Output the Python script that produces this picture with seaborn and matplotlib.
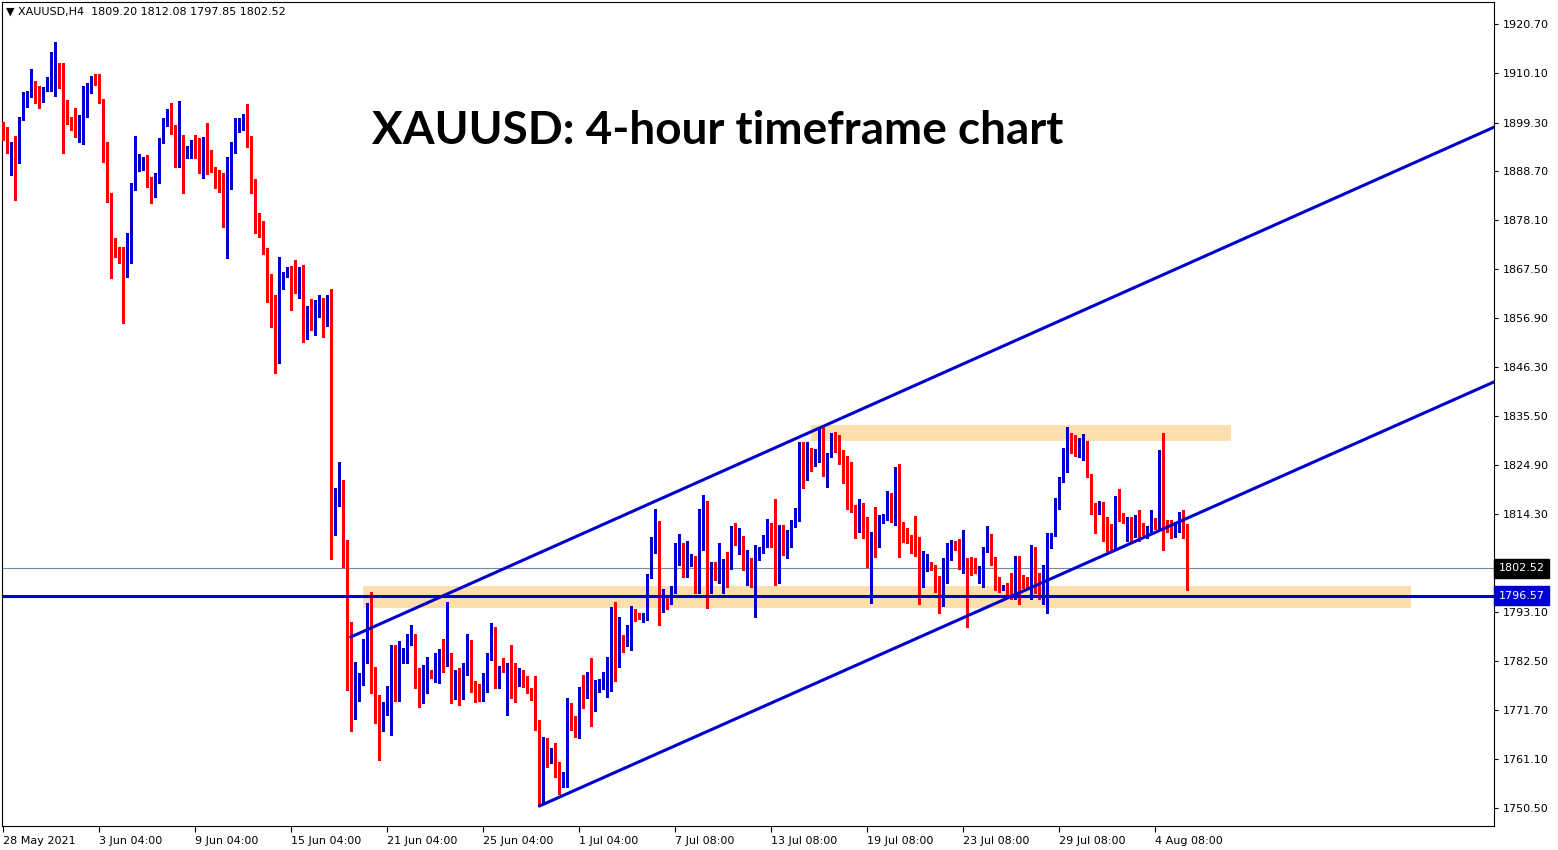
import numpy as np
import pandas as pd
import seaborn as sns
import matplotlib.pyplot as plt
from matplotlib import transforms

# ---------------------------------------------------------------------------
# XAUUSD H4 candles (28 May 2021 -> 5 Aug 2021)
# ---------------------------------------------------------------------------
opens = [
    1898.8, 1897.0, 1893.1, 1893.8, 1893.1, 1900.1, 1903.8, 1904.8, 1907.0, 1906.6,
    1905.5, 1907.2, 1908.1, 1910.7, 1911.8, 1910.7, 1903.5, 1900.1, 1899.2, 1896.4,
    1896.4, 1904.6, 1906.6, 1908.8, 1908.5, 1904.0, 1894.6, 1882.5, 1871.2, 1871.4,
    1869.7, 1868.6, 1869.7, 1884.9, 1889.4, 1890.3, 1891.2, 1886.2, 1884.7, 1887.3,
    1895.1, 1899.2, 1901.8, 1897.2, 1892.7, 1893.3, 1892.5, 1891.8, 1895.3, 1894.2,
    1889.4, 1894.0, 1891.4, 1889.2, 1886.2, 1885.7, 1882.3, 1890.7, 1894.0, 1898.1,
    1899.6, 1900.5, 1895.3, 1884.7, 1879.2, 1876.4, 1871.2, 1865.8, 1858.2, 1848.4,
    1864.5, 1866.4, 1866.6, 1864.7, 1864.0, 1865.8, 1852.5, 1859.3, 1854.5, 1860.1,
    1860.3, 1857.9, 1859.5, 1812.8, 1817.8, 1821.7, 1804.8, 1785.6, 1770.7, 1775.4,
    1779.1, 1784.6, 1791.3, 1777.4, 1772.2, 1768.9, 1773.1, 1773.1, 1785.2, 1775.0,
    1783.3, 1784.1, 1786.1, 1788.3, 1778.7, 1774.6, 1778.5, 1780.0, 1778.9, 1782.0,
    1783.0, 1782.4, 1783.5, 1778.5, 1778.9, 1775.0, 1779.8, 1783.7, 1776.9, 1776.5,
    1773.9, 1776.5, 1782.8, 1785.6, 1777.2, 1781.5, 1780.7, 1780.9, 1779.4, 1777.4,
    1779.8, 1778.7, 1776.1, 1774.8, 1769.6, 1755.0, 1763.1, 1762.2, 1762.6, 1759.4,
    1756.3, 1757.0, 1772.4, 1770.2, 1766.3, 1774.8, 1774.6, 1777.8, 1771.8, 1776.5,
    1777.2, 1777.8, 1782.0, 1789.6, 1782.0, 1787.6, 1785.9, 1787.6, 1792.8, 1792.1,
    1791.5, 1791.9, 1800.6, 1806.1, 1809.5, 1794.1, 1796.3, 1795.2, 1797.8, 1804.5,
    1804.8, 1801.7, 1803.7, 1804.5, 1797.8, 1813.7, 1813.7, 1797.6, 1803.2, 1800.6,
    1801.5, 1802.8, 1802.6, 1810.6, 1808.0, 1809.1, 1803.0, 1803.5, 1802.8, 1805.8,
    1806.3, 1807.4, 1810.0, 1809.1, 1800.4, 1811.7, 1807.2, 1807.4, 1811.9, 1814.3,
    1828.8, 1821.9, 1827.6, 1825.2, 1826.0, 1832.5, 1823.4, 1826.9, 1829.9, 1829.5,
    1826.7, 1823.0, 1823.0, 1815.4, 1811.3, 1815.0, 1812.6, 1804.3, 1809.3, 1809.1,
    1812.6, 1813.4, 1818.0, 1813.0, 1823.0, 1812.1, 1810.4, 1809.1, 1808.2, 1807.6,
    1798.9, 1803.0, 1803.9, 1802.8, 1799.3, 1797.2, 1802.8, 1805.2, 1807.2, 1807.2,
    1803.2, 1804.5, 1803.2, 1802.6, 1802.2, 1799.3, 1806.5, 1808.9, 1803.7, 1799.5,
    1798.0, 1798.7, 1798.2, 1796.3, 1803.0, 1800.2, 1800.4, 1799.5, 1805.2, 1801.3,
    1799.5, 1802.8, 1807.2, 1809.8, 1815.6, 1821.5, 1825.8, 1831.5, 1829.3, 1827.6,
    1827.6, 1829.9, 1823.0, 1814.5, 1814.5, 1816.7, 1810.8, 1807.6, 1806.9, 1818.0,
    1814.1, 1811.5, 1811.9, 1810.8, 1812.8, 1811.3, 1810.2, 1810.4, 1812.6, 1811.5,
    1827.6, 1812.1, 1811.7, 1809.8, 1811.0, 1811.0, 1809.20,
]
highs = [
    1899.4, 1898.3, 1895.1, 1896.4, 1900.5, 1905.9, 1906.1, 1910.9, 1908.3, 1907.2,
    1907.0, 1909.2, 1914.6, 1916.8, 1912.2, 1912.2, 1904.2, 1900.5, 1902.5, 1900.9,
    1907.2, 1907.9, 1909.4, 1909.8, 1909.8, 1904.4, 1895.1, 1884.0, 1874.2, 1872.3,
    1872.3, 1875.3, 1886.2, 1896.4, 1892.5, 1891.8, 1892.2, 1887.5, 1888.3, 1895.9,
    1900.3, 1902.2, 1903.5, 1898.8, 1904.0, 1896.6, 1894.2, 1895.5, 1896.6, 1895.9,
    1896.2, 1899.2, 1893.3, 1889.6, 1889.0, 1888.3, 1891.8, 1895.1, 1900.3, 1900.3,
    1901.2, 1903.3, 1896.4, 1887.0, 1879.7, 1877.9, 1872.1, 1866.4, 1861.9, 1870.1,
    1866.8, 1867.9, 1868.1, 1869.5, 1867.9, 1868.4, 1859.5, 1861.0, 1860.8, 1861.9,
    1861.2, 1861.9, 1863.2, 1820.0, 1825.6, 1821.7, 1808.7, 1790.9, 1782.2, 1779.8,
    1787.2, 1795.0, 1797.4, 1781.1, 1775.0, 1773.5, 1777.0, 1785.9, 1785.9, 1786.7,
    1785.2, 1788.3, 1790.2, 1788.3, 1780.9, 1781.5, 1783.3, 1780.4, 1784.1, 1785.0,
    1787.2, 1795.2, 1784.1, 1780.4, 1780.9, 1782.0, 1788.3, 1787.0, 1778.0, 1777.4,
    1779.8, 1784.1, 1790.6, 1789.8, 1781.3, 1783.0, 1782.0, 1785.9, 1782.0, 1780.9,
    1780.4, 1779.1, 1776.5, 1779.1, 1769.6, 1765.9, 1765.7, 1763.5, 1764.6, 1760.5,
    1758.3, 1774.4, 1773.3, 1770.4, 1776.7, 1779.4, 1780.0, 1783.0, 1778.3, 1778.5,
    1780.0, 1783.3, 1794.1, 1795.2, 1791.9, 1788.0, 1790.2, 1794.3, 1793.7, 1792.8,
    1792.8, 1801.3, 1809.3, 1815.4, 1812.8, 1798.0, 1796.5, 1798.7, 1808.0, 1810.0,
    1808.0, 1808.4, 1805.6, 1805.2, 1815.4, 1818.4, 1817.1, 1803.9, 1803.9, 1808.0,
    1804.5, 1806.1, 1811.7, 1812.4, 1811.3, 1809.5, 1806.5, 1804.8, 1807.6, 1807.2,
    1809.8, 1813.2, 1812.4, 1817.6, 1811.9, 1811.9, 1810.8, 1813.0, 1815.6, 1829.9,
    1829.9, 1829.9, 1828.6, 1828.4, 1833.0, 1833.4, 1827.6, 1831.9, 1832.1, 1831.5,
    1828.2, 1826.9, 1825.6, 1816.3, 1817.6, 1816.7, 1813.7, 1810.4, 1815.8, 1814.1,
    1814.3, 1819.3, 1818.9, 1824.5, 1825.2, 1812.6, 1811.3, 1809.8, 1813.9, 1809.3,
    1806.3, 1805.6, 1803.9, 1803.2, 1800.8, 1804.8, 1808.0, 1808.7, 1808.4, 1808.9,
    1810.8, 1804.8, 1805.0, 1804.8, 1803.0, 1807.2, 1811.7, 1810.0, 1805.0, 1800.6,
    1798.9, 1799.3, 1801.5, 1805.2, 1805.2, 1801.1, 1800.6, 1807.6, 1807.2, 1801.5,
    1803.2, 1810.2, 1810.2, 1817.8, 1822.3, 1828.6, 1833.2, 1831.9, 1831.5, 1830.8,
    1831.7, 1830.2, 1823.0, 1816.7, 1817.1, 1816.9, 1813.7, 1812.1, 1818.2, 1819.7,
    1814.5, 1813.7, 1813.7, 1814.1, 1815.2, 1812.4, 1811.7, 1815.2, 1813.4, 1828.2,
    1831.9, 1813.0, 1813.0, 1812.6, 1814.7, 1815.2, 1812.08,
]
lows = [
    1895.5, 1892.7, 1887.9, 1882.5, 1890.5, 1899.8, 1902.7, 1904.8, 1903.5, 1902.5,
    1903.8, 1906.1, 1906.1, 1905.1, 1906.8, 1892.7, 1899.0, 1897.7, 1896.2, 1895.1,
    1894.6, 1900.5, 1905.7, 1907.4, 1903.5, 1890.7, 1882.1, 1865.6, 1870.1, 1868.8,
    1855.8, 1865.8, 1868.8, 1884.7, 1888.8, 1889.0, 1885.3, 1881.8, 1883.1, 1886.2,
    1894.9, 1898.5, 1896.8, 1889.6, 1889.6, 1884.0, 1891.6, 1891.6, 1891.6, 1888.3,
    1887.3, 1888.1, 1888.6, 1885.1, 1884.2, 1876.6, 1869.9, 1884.9, 1892.7, 1897.2,
    1897.7, 1894.0, 1884.0, 1875.3, 1874.5, 1870.8, 1860.3, 1854.9, 1844.9, 1847.1,
    1863.2, 1865.8, 1858.6, 1862.3, 1861.2, 1851.7, 1852.3, 1854.3, 1853.2, 1857.1,
    1852.7, 1855.1, 1804.5, 1809.8, 1816.1, 1802.8, 1776.1, 1767.2, 1769.8, 1773.7,
    1777.2, 1782.0, 1775.5, 1768.9, 1760.9, 1767.2, 1770.7, 1766.3, 1773.7, 1773.7,
    1782.0, 1782.0, 1785.9, 1776.5, 1772.4, 1773.3, 1775.4, 1778.7, 1777.8, 1777.6,
    1780.0, 1781.3, 1773.3, 1774.2, 1772.8, 1774.2, 1779.4, 1775.7, 1773.5, 1773.7,
    1773.7, 1775.7, 1782.6, 1776.5, 1776.5, 1780.0, 1770.7, 1774.4, 1773.5, 1777.0,
    1776.7, 1775.5, 1773.9, 1767.4, 1751.1, 1751.4, 1759.4, 1760.3, 1757.2, 1753.5,
    1755.0, 1755.0, 1767.4, 1765.9, 1765.7, 1772.2, 1774.4, 1768.3, 1771.5, 1775.7,
    1776.3, 1774.6, 1775.9, 1778.0, 1781.1, 1784.4, 1785.6, 1784.8, 1791.1, 1791.5,
    1790.9, 1791.3, 1800.4, 1805.8, 1790.2, 1793.0, 1793.7, 1794.8, 1797.2, 1803.2,
    1800.6, 1800.6, 1803.0, 1797.2, 1797.2, 1806.5, 1793.9, 1797.2, 1800.0, 1799.3,
    1797.2, 1798.5, 1802.4, 1807.6, 1805.6, 1802.2, 1798.9, 1798.5, 1791.9, 1804.3,
    1805.8, 1807.2, 1807.2, 1798.9, 1799.3, 1805.4, 1804.8, 1807.2, 1811.5, 1812.8,
    1819.9, 1821.7, 1823.6, 1824.7, 1825.6, 1822.6, 1820.2, 1826.7, 1827.8, 1825.2,
    1821.0, 1815.4, 1814.7, 1809.1, 1810.4, 1809.1, 1802.8, 1795.0, 1805.0, 1807.2,
    1812.4, 1813.0, 1812.6, 1811.9, 1805.0, 1808.2, 1808.0, 1805.8, 1805.2, 1794.8,
    1798.5, 1801.9, 1802.2, 1797.4, 1792.8, 1794.3, 1799.3, 1804.3, 1806.5, 1802.4,
    1801.5, 1789.8, 1801.1, 1801.5, 1799.3, 1798.5, 1806.1, 1803.2, 1797.8, 1797.4,
    1797.8, 1796.1, 1795.9, 1795.9, 1794.8, 1798.2, 1798.5, 1795.9, 1797.2, 1795.9,
    1794.8, 1792.8, 1806.9, 1809.5, 1815.4, 1821.3, 1823.4, 1827.6, 1826.9, 1826.7,
    1826.0, 1822.3, 1814.3, 1810.2, 1814.3, 1808.4, 1806.3, 1806.5, 1806.7, 1812.8,
    1812.4, 1808.4, 1808.4, 1809.3, 1808.4, 1809.8, 1809.1, 1810.2, 1811.0, 1811.0,
    1806.5, 1810.4, 1809.1, 1809.3, 1810.4, 1809.1, 1797.85,
]
closes = [
    1897.0, 1892.9, 1893.8, 1892.9, 1900.1, 1903.3, 1904.8, 1907.0, 1906.4, 1905.3,
    1906.8, 1908.3, 1910.9, 1911.8, 1910.3, 1903.5, 1900.1, 1899.0, 1896.4, 1896.6,
    1904.8, 1906.8, 1909.0, 1908.3, 1903.8, 1894.4, 1882.3, 1871.0, 1870.8, 1869.5,
    1868.4, 1869.9, 1884.9, 1889.6, 1891.8, 1891.2, 1886.2, 1884.7, 1887.5, 1895.3,
    1899.0, 1901.8, 1897.0, 1892.7, 1893.3, 1892.7, 1893.3, 1895.3, 1894.0, 1889.4,
    1894.0, 1891.2, 1889.0, 1885.9, 1885.5, 1882.5, 1890.9, 1894.0, 1899.8, 1899.8,
    1900.5, 1895.1, 1884.2, 1879.0, 1876.2, 1871.0, 1865.6, 1858.2, 1848.4, 1864.5,
    1866.6, 1866.6, 1864.5, 1864.0, 1865.8, 1852.5, 1859.0, 1854.5, 1860.3, 1860.3,
    1857.9, 1859.5, 1810.2, 1818.0, 1821.7, 1805.0, 1785.6, 1770.7, 1773.1, 1779.4,
    1784.6, 1791.3, 1777.2, 1772.0, 1764.6, 1773.3, 1773.3, 1785.2, 1775.0, 1783.3,
    1783.5, 1786.1, 1788.3, 1778.7, 1774.8, 1778.5, 1778.9, 1778.9, 1782.2, 1783.0,
    1782.4, 1783.5, 1778.5, 1778.9, 1775.0, 1780.0, 1783.5, 1776.7, 1775.0, 1773.9,
    1776.5, 1782.8, 1785.4, 1777.2, 1781.3, 1780.4, 1780.9, 1779.4, 1777.4, 1779.8,
    1778.9, 1775.9, 1774.6, 1769.4, 1755.0, 1763.5, 1761.1, 1762.6, 1759.0, 1756.3,
    1757.4, 1772.4, 1769.8, 1766.3, 1774.8, 1774.6, 1777.8, 1771.8, 1776.7, 1777.4,
    1778.0, 1782.2, 1789.8, 1782.0, 1787.6, 1785.9, 1787.6, 1793.0, 1791.9, 1791.7,
    1792.1, 1801.1, 1806.1, 1809.5, 1794.1, 1797.2, 1794.1, 1798.0, 1804.5, 1804.8,
    1801.7, 1803.9, 1804.5, 1797.8, 1813.7, 1813.9, 1797.6, 1802.6, 1800.6, 1801.5,
    1802.8, 1802.6, 1810.6, 1808.0, 1809.3, 1803.0, 1803.5, 1802.8, 1805.8, 1806.5,
    1807.6, 1810.0, 1809.1, 1800.4, 1811.7, 1807.2, 1808.2, 1811.9, 1814.3, 1828.8,
    1822.1, 1828.2, 1825.0, 1826.3, 1832.3, 1823.4, 1827.1, 1829.7, 1829.3, 1826.7,
    1822.8, 1822.8, 1815.2, 1811.7, 1815.0, 1812.4, 1804.3, 1809.3, 1808.9, 1813.0,
    1813.4, 1818.0, 1813.0, 1823.0, 1811.9, 1810.2, 1808.7, 1808.0, 1807.4, 1798.9,
    1806.1, 1803.7, 1802.6, 1799.3, 1797.2, 1803.0, 1805.4, 1806.9, 1806.9, 1803.2,
    1804.5, 1802.8, 1802.4, 1801.9, 1802.8, 1806.5, 1808.9, 1803.5, 1799.3, 1797.8,
    1798.5, 1797.8, 1797.8, 1803.0, 1800.0, 1798.5, 1799.5, 1805.2, 1801.3, 1799.5,
    1802.8, 1807.6, 1809.8, 1816.1, 1821.7, 1826.0, 1831.5, 1827.8, 1827.1, 1827.8,
    1829.7, 1822.8, 1814.5, 1814.3, 1816.7, 1810.6, 1807.4, 1806.7, 1818.0, 1813.4,
    1812.6, 1812.1, 1810.8, 1812.6, 1811.0, 1810.2, 1810.6, 1812.6, 1811.5, 1827.6,
    1811.9, 1810.8, 1809.8, 1811.3, 1811.3, 1809.3, 1802.52,
]

# axis labels
date_labels = ["28 May 2021", "3 Jun 04:00", "9 Jun 04:00", "15 Jun 04:00",
               "21 Jun 04:00", "25 Jun 04:00", "1 Jul 04:00", "7 Jul 08:00",
               "13 Jul 08:00", "19 Jul 08:00", "23 Jul 08:00", "29 Jul 08:00",
               "4 Aug 08:00"]
date_bars = [1, 25, 49, 73, 97, 121, 145, 169, 193, 217, 241, 265, 289]
price_ticks = [1920.70, 1910.10, 1899.30, 1888.70, 1878.10, 1867.50, 1856.90,
               1846.30, 1835.50, 1824.90, 1814.30, 1803.70, 1793.10, 1782.50,
               1771.70, 1761.10, 1750.50]

# drawn objects (bar number, price)
last_price = 1802.52
support_level = 1796.57
support_zone_bars = [90.85, 352.9]
support_zone_prices = [1793.9, 1798.7]
resist_zone_bars = [202.9, 307.9]
resist_zone_prices = [1830.2, 1833.6]
upper_trend_bars = [87.85, 373.7]
upper_trend_prices = [1787.6, 1898.3]
lower_trend_bars = [135.0, 373.7]
lower_trend_prices = [1750.9, 1843.0]

BLUE = "#0000CC"
RED = "#FF0000"
ZONE = "#FDDFAE"

df = pd.DataFrame({"open": opens, "high": highs, "low": lows, "close": closes})
df["bar"] = np.arange(1, len(df) + 1)
df["color"] = np.where(df["close"] >= df["open"], BLUE, RED)
df["body_low"] = df[["open", "close"]].min(axis=1)
df["body_h"] = (df["close"] - df["open"]).abs().clip(lower=0.22)

sns.set_theme(style="white")
plt.rcParams["font.family"] = ["DejaVu Sans"]

fig = plt.figure(figsize=(15.58, 8.5), dpi=100)
ax = fig.add_axes([2 / 1558, 24 / 850, 1492 / 1558, 824 / 850])

# zones
ax.fill_between(support_zone_bars, support_zone_prices[0], support_zone_prices[1],
                color=ZONE, lw=0, zorder=1)
ax.fill_between(resist_zone_bars, resist_zone_prices[0], resist_zone_prices[1],
                color=ZONE, lw=0, zorder=1)

# price lines
ax.axhline(last_price, color="#778899", lw=0.8, zorder=2)
ax.axhline(support_level, color=BLUE, lw=2.2, zorder=4)

# candles
ax.vlines(df["bar"], df["low"], df["high"], colors=df["color"], lw=0.9,
          antialiased=False, zorder=3)
ax.bar(df["bar"], df["body_h"], bottom=df["body_low"], width=0.75,
       color=df["color"], lw=0, antialiased=False, zorder=3)

# channel lines
sns.lineplot(x=upper_trend_bars, y=upper_trend_prices, color=BLUE, lw=2.2,
             ax=ax, zorder=4)
sns.lineplot(x=lower_trend_bars, y=lower_trend_prices, color=BLUE, lw=2.2,
             ax=ax, zorder=4)

ax.set_xlim(0.675, 373.675)
ax.set_ylim(1746.57, 1925.47)

# axes / ticks
ax.yaxis.tick_right()
ax.set_yticks(price_ticks)
ax.set_yticklabels([f"{p:.2f}" for p in price_ticks])
ax.set_xticks(date_bars)
ax.set_xticklabels(date_labels, ha="left")
ax.tick_params(axis="y", direction="out", length=3, width=0.8, pad=3,
               labelsize=8, colors="black", right=True, left=False)
ax.tick_params(axis="x", direction="out", length=4, width=0.8, pad=3,
               labelsize=8, colors="black", bottom=True)
for s in ax.spines.values():
    s.set_color("black")
    s.set_linewidth(0.8)
ax.set_xlabel("")
ax.set_ylabel("")
ax.grid(False)

# price boxes on the axis
trans = transforms.blended_transform_factory(ax.transAxes, ax.transData)
ax.text(1.003, last_price, f"{last_price:.2f}", transform=trans, ha="left",
        va="center", fontsize=8, color="white", zorder=10, clip_on=False,
        bbox=dict(boxstyle="square,pad=0.4", fc="black", ec="black"))
ax.text(1.003, support_level, f"{support_level:.2f}", transform=trans, ha="left",
        va="center", fontsize=8, color="white", zorder=10, clip_on=False,
        bbox=dict(boxstyle="square,pad=0.4", fc=BLUE, ec=BLUE))

# header text
fig.text(6 / 1558, 1 - 12 / 850, "\u25BC XAUUSD,H4  1809.20 1812.08 1797.85 1802.52",
         fontsize=8, va="center", ha="left", color="black")
fig.text(718 / 1558, 1 - 131 / 850, "XAUUSD: 4-hour timeframe chart",
         fontsize=33, fontweight="bold", family=["Lato", "DejaVu Sans"],
         va="center", ha="center", color="black")

fig.savefig("out.png", dpi=100)
